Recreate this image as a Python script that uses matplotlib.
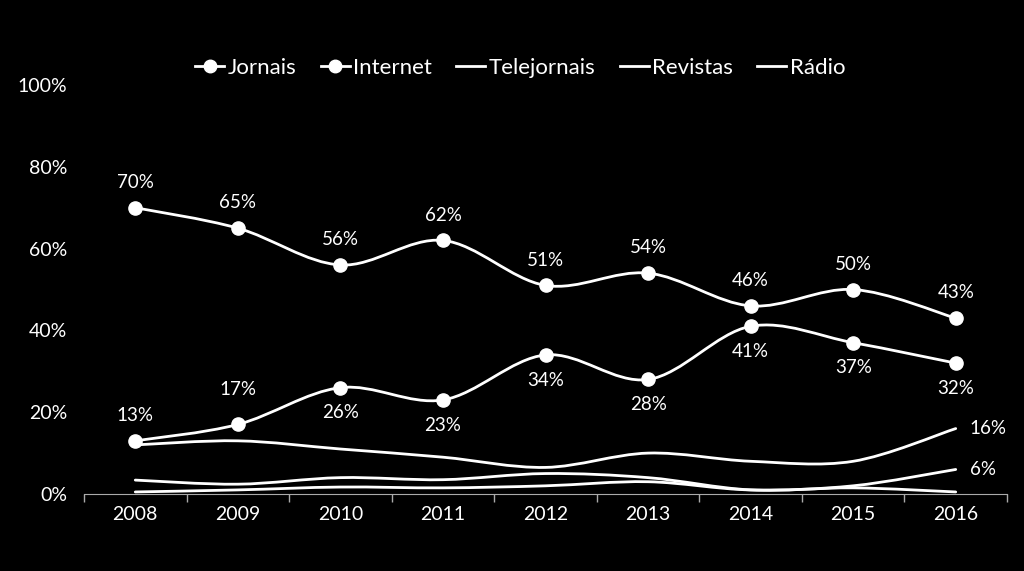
import matplotlib
matplotlib.use("Agg")
import matplotlib.pyplot as plt
from matplotlib.path import Path
from matplotlib.patches import PathPatch
from matplotlib.lines import Line2D
import numpy as np

anos = ["2008", "2009", "2010", "2011", "2012", "2013", "2014", "2015", "2016"]
jornais = [70, 65, 56, 62, 51, 54, 46, 50, 43]
internet = [13, 17, 26, 23, 34, 28, 41, 37, 32]
telejornais = [12, 13, 11, 9, 6.5, 10, 8, 8, 16]
revistas = [3.4, 2.4, 4, 3.5, 5, 4, 1, 1.5, 0.5]
radio = [0.5, 1, 1.7, 1.5, 2, 3, 1, 2, 6]

plt.rcParams['font.family'] = ['Lato', 'DejaVu Sans']

def curva(ax, ys, lw=2.0):
    # curva suavizada (tipo Excel) com beziers entre os pontos
    xs = np.arange(len(ys), dtype=float)
    ys = np.asarray(ys, dtype=float)
    pts = np.column_stack([xs, ys])
    verts = [pts[0]]
    codes = [Path.MOVETO]
    n = len(pts)
    for i in range(n - 1):
        p0 = pts[i - 1] if i > 0 else pts[i]
        p1 = pts[i]
        p2 = pts[i + 1]
        p3 = pts[i + 2] if i + 2 < n else pts[i + 1]
        c1 = p1 + (p2 - p0) / 6.0
        c2 = p2 - (p3 - p1) / 6.0
        verts += [c1, c2, p2]
        codes += [Path.CURVE4] * 3
    ax.add_patch(PathPatch(Path(verts, codes), fill=False, edgecolor="white",
                           lw=lw, capstyle="round", joinstyle="round"))

fig = plt.figure(figsize=(10.24, 5.71), dpi=100, facecolor="black")
ax = fig.add_axes([84 / 1024, 77 / 571, 923 / 1024, 409 / 571])
ax.set_facecolor("black")

x = np.arange(len(anos))
for s in [telejornais, revistas, radio]:
    curva(ax, s)
curva(ax, internet)
curva(ax, jornais)
ax.plot(x, jornais, "o", color="white", ms=9.5, zorder=5)
ax.plot(x, internet, "o", color="white", ms=9.5, zorder=5)

# rotulos
fs = 13.5
for i, v in enumerate(jornais):
    ax.annotate(f"{v}%", (i, v), xytext=(0, 12), textcoords="offset points",
                ha="center", va="bottom", color="white", fontsize=fs)
for i, v in enumerate(internet):
    if i == 0:
        ax.annotate(f"{v}%", (i, v), xytext=(0, 12), textcoords="offset points",
                    ha="center", va="bottom", color="white", fontsize=fs)
    elif i == 1:
        ax.annotate(f"{v}%", (i, v), xytext=(0, 19), textcoords="offset points",
                    ha="center", va="bottom", color="white", fontsize=fs)
    else:
        ax.annotate(f"{v}%", (i, v), xytext=(0, -12), textcoords="offset points",
                    ha="center", va="top", color="white", fontsize=fs)
ax.annotate("16%", (8, telejornais[-1]), xytext=(10, 0), textcoords="offset points",
            ha="left", va="center", color="white", fontsize=fs)
ax.annotate("6%", (8, radio[-1]), xytext=(10, 0), textcoords="offset points",
            ha="left", va="center", color="white", fontsize=fs)

ax.set_xlim(-0.5, 8.5)
ax.set_ylim(0, 100)
ax.set_xticks(x)
ax.set_xticklabels(anos)
ax.set_xticks(np.arange(-0.5, 9, 1), minor=True)
ax.set_yticks(range(0, 101, 20))
ax.set_yticklabels([f"{v}%" for v in range(0, 101, 20)])
ax.tick_params(axis="x", which="major", length=0, colors="white", labelsize=14, pad=9)
ax.tick_params(axis="x", which="minor", length=6, color="#aaaaaa", width=1)
ax.tick_params(axis="y", length=0, colors="white", labelsize=14, pad=12)
for sp in ["top", "right", "left"]:
    ax.spines[sp].set_visible(False)
ax.spines["bottom"].set_color("#aaaaaa")

handles = [
    Line2D([], [], color="white", lw=2, marker="o", ms=9, label="Jornais"),
    Line2D([], [], color="white", lw=2, marker="o", ms=9, label="Internet"),
    Line2D([], [], color="white", lw=2, label="Telejornais"),
    Line2D([], [], color="white", lw=2, label="Revistas"),
    Line2D([], [], color="white", lw=2, label="Rádio"),
]
leg = fig.legend(handles=handles, loc="center", bbox_to_anchor=(0.508, 1 - 68 / 571),
                 ncol=5, frameon=False, fontsize=16, handlelength=1.3,
                 handletextpad=0.15, columnspacing=1.1)
for t in leg.get_texts():
    t.set_color("white")

fig.savefig("out.png", dpi=100, facecolor="black")
